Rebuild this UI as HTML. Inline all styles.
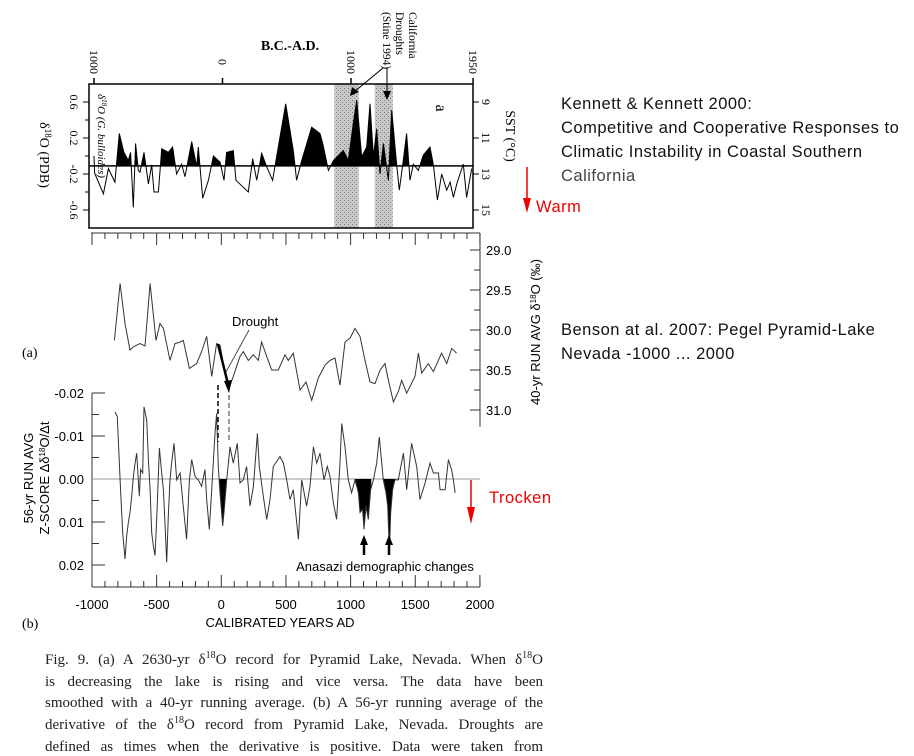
<!DOCTYPE html>
<html><head><meta charset="utf-8"><style>
html,body{margin:0;padding:0;background:#fff;}
svg{display:block;}
.cap{position:absolute;left:45px;width:498px;font-family:"Liberation Serif",serif;font-size:15px;line-height:21.7px;color:#222;}
.cap div{text-align:justify;text-align-last:justify;white-space:nowrap;overflow:visible;}
.note{position:absolute;left:561px;font-family:"Liberation Sans",sans-serif;font-size:16.5px;letter-spacing:0.5px;line-height:24px;color:#111;white-space:nowrap;}
</style></head><body>
<div style="position:relative;width:914px;height:756px;overflow:hidden;">
<svg id="chart" width="914" height="756" viewBox="0 0 914 756" xmlns="http://www.w3.org/2000/svg"></svg>
<div class="note" style="top:92px;">Kennett &amp; Kennett 2000:<br>Competitive and Cooperative Responses to<br>Climatic Instability in Coastal Southern<br><span style="color:#444">California</span></div>
<div class="note" style="top:318px;">Benson at al. 2007: Pegel Pyramid-Lake<br>Nevada -1000 ... 2000</div>
<div class="note" style="top:195px;left:536px;color:#e00;">Warm</div>
<div class="note" style="top:486px;left:489px;color:#e00;">Trocken</div>
<div class="cap" style="top:650px;">
<div>Fig. 9. (a) A 2630-yr δ<sup style="font-size:10px;line-height:0">18</sup>O record for Pyramid Lake, Nevada. When δ<sup style="font-size:10px;line-height:0">18</sup>O</div>
<div>is decreasing the lake is rising and vice versa. The data have been</div>
<div>smoothed with a 40-yr running average. (b) A 56-yr running average of the</div>
<div>derivative of the δ<sup style="font-size:10px;line-height:0">18</sup>O record from Pyramid Lake, Nevada. Droughts are</div>
<div>defined as times when the derivative is positive. Data were taken from</div>
</div>
</div>
<script>
// ---- Top panel (Kennett) data ----
const topYears = [-1000,-995,-927,-888,-837,-803,-767,-733,-715,-694,-676,-655,-642,-611,-577,-551,-533,-499,-473,-447,-421,-388,-357,-318,-292,-240,-201,-188,-154,-110,-71,-19,12,32,84,105,201,235,266,305,344,390,434,492,551,577,616,694,759,780,824,863,940,979,1018,1044,1083,1122,1148,1174,1200,1226,1252,1291,1317,1355,1376,1407,1433,1459,1485,1524,1563,1615,1641,1672,1706,1745,1771,1797,1823,1848,1874,1900,1939];
const topValues = [0.0,-0.19,-0.42,-0.14,-0.29,0.25,0.04,-0.05,0.04,-0.57,0.14,-0.16,-0.18,0.04,-0.31,-0.1,-0.4,-0.4,0.08,0.06,0.04,0.1,-0.2,-0.09,-0.23,0.16,-0.12,0.1,-0.47,-0.27,0.0,-0.07,-0.27,0.04,0.06,-0.27,-0.4,-0.03,-0.27,0.03,-0.12,-0.27,0.1,0.58,0.06,-0.27,-0.05,0.32,0.25,0.14,-0.16,-0.05,0.06,-0.05,0.36,0.62,-0.01,0.1,0.58,-0.01,0.3,-0.2,0.14,-0.27,0.51,-0.09,-0.38,-0.05,0.25,-0.27,-0.09,-0.16,0.01,0.1,-0.1,-0.49,-0.2,-0.38,-0.29,-0.46,-0.31,-0.2,-0.09,-0.46,-0.14];
const topYTicks = [0.6,0.2,-0.2,-0.6];
const sstTicks = ["9","11","13","15"];
const topXTicks = [-1000,0,1000,1950];
const topXLabels = ["1000","0","1000","1950"];
const droughtBands = [[870,1060],[1185,1325]];
// ---- Middle panel (Benson 40-yr avg) ----
const midYears = [-827,-783,-745,-706,-680,-654,-629,-590,-551,-505,-474,-448,-397,-358,-319,-294,-247,-191,-152,-113,-74,-36,-10,54,93,145,170,209,248,286,312,351,390,441,493,518,557,609,655,699,750,802,841,879,918,957,996,1034,1073,1111,1150,1189,1228,1266,1292,1331,1369,1395,1434,1498,1524,1550,1601,1640,1704,1743,1782,1820];
const midValues = [30.13,29.42,29.92,30.25,30.21,30.19,30.17,30.2,29.42,30.13,29.92,29.98,30.38,30.17,30.15,30.13,30.48,30.42,30.27,30.08,30.58,30.17,30.19,30.75,30.58,30.33,30.27,30.38,30.31,30.38,30.15,30.33,30.5,30.5,30.31,30.38,30.29,30.75,30.65,30.88,30.6,30.44,30.38,30.35,30.69,30.15,30.1,29.98,30.08,30.38,30.65,30.67,30.5,30.42,30.63,30.9,30.77,30.63,30.79,30.58,30.29,30.54,30.42,30.52,30.29,30.42,30.23,30.29];
const midTicks = ["29.0","29.5","30.0","30.5","31.0"];
// ---- Bottom panel (Benson derivative, thousandths) ----
const botYears = [-822,-804,-783,-763,-752,-745,-732,-719,-706,-693,-680,-667,-654,-634,-624,-608,-598,-577,-564,-551,-538,-526,-513,-500,-479,-461,-448,-435,-422,-410,-397,-384,-366,-345,-319,-299,-268,-247,-229,-203,-178,-152,-126,-113,-93,-74,-49,-36,-23,-10,11,21,42,67,93,124,145,170,196,222,248,279,294,325,351,377,402,454,480,506,531,557,596,622,660,686,712,738,763,794,820,841,866,892,918,931,957,982,1008,1034,1060,1073,1093,1104,1119,1137,1155,1176,1202,1222,1253,1274,1287,1300,1310,1325,1343,1369,1408,1434,1472,1511,1537,1576,1614,1640,1679,1692,1731,1756,1782,1795,1808];
const botValues = [-15.6,-14.5,0.2,12.3,16.2,18.6,13.2,10.2,7.8,4.0,-0.6,-3.7,-6.0,4.0,-2.2,-1.4,-16.8,-13.7,-4.5,2.5,12.5,15.5,17.8,9.4,-7.2,-1.4,2.5,10.9,19.4,8.6,0.2,-3.7,-8.3,0.2,-1.4,4.8,14.0,0.2,-4.5,-0.6,0.2,1.7,-2.2,4.8,11.7,2.5,-10.6,-15.2,-2.9,3.2,10.9,7.8,0.2,-7.5,-3.7,-8.3,0.9,0.2,-2.9,6.3,1.7,-10.6,-2.9,4.0,9.4,4.8,-2.9,-5.2,-3.7,0.2,4.8,2.5,14.0,0.2,6.3,1.7,-7.5,-3.7,-6.0,0.2,-2.9,-0.6,5.5,9.4,-3.7,-12.9,-7.5,0.2,3.2,0.2,3.2,7.8,7.1,11.7,6.3,9.4,2.5,0.2,-3.7,-9.8,0.2,3.2,6.3,17.1,7.8,2.5,0.2,0.2,-6.0,2.5,-8.3,-2.9,4.8,0.9,-3.7,-1.4,-1.4,2.5,2.5,-4.5,-2.1,0.2,3.2];
const botTicks = ["-0.02","-0.01","0.00","0.01","0.02"];
const botTickVals = [-20,-10,0,10,20];
const xTickVals = [-1000,-500,0,500,1000,1500,2000];
const fillRanges = [[-25,70],[1030,1160],[1250,1345]];

const NS="http://www.w3.org/2000/svg";
const svg=document.getElementById('chart');
function mk(tag,attrs,parent,text){const e=document.createElementNS(NS,tag);for(const k in attrs)e.setAttribute(k,attrs[k]);if(text!==undefined)e.textContent=text;(parent||svg).appendChild(e);return e;}
const tx=y=>222.5+y*0.1285;
const ty=v=>102+(0.6-v)*90;
const bx=y=>92+(y+1000)*0.1293;
const my=v=>250+(v-29)*80;
const by=v=>479+v*4.3;

const defs=mk('defs',{});
const pat=mk('pattern',{id:'stip',width:4,height:4,patternUnits:'userSpaceOnUse'},defs);
mk('rect',{width:4,height:4,fill:'#c8c8c8'},pat);
mk('rect',{x:0,y:0,width:1,height:1,fill:'#777'},pat);
mk('rect',{x:2,y:2,width:1,height:1,fill:'#888'},pat);
const cp=mk('clipPath',{id:'topAbove'},defs);
mk('rect',{x:89,y:84,width:384,height:ty(-0.11)-84},cp);
const cp2=mk('clipPath',{id:'botFill'},defs);
fillRanges.forEach(r=>mk('rect',{x:bx(r[0]),y:479,width:bx(r[1])-bx(r[0]),height:120},cp2));

// ===== top panel =====
let t=mk('text',{x:290,y:50,'font-family':'Liberation Serif, serif','font-size':14,'font-weight':'bold','text-anchor':'middle'},svg,'B.C.-A.D.');


droughtBands.forEach((b,i)=>{
  const r=mk('rect',{x:tx(b[0]),y:84,width:tx(b[1])-tx(b[0]),height:144,fill:'url(#stip)'});
  
  
});
const topPts=topYears.map((y,i)=>tx(y).toFixed(1)+','+ty(topValues[i]).toFixed(1));
const base=ty(-0.11);
let f=mk('path',{d:'M'+tx(topYears[0])+','+base+' L'+topPts.join(' L')+' L'+tx(topYears[topYears.length-1])+','+base+'Z',fill:'#000','clip-path':'url(#topAbove)'});


let l=mk('polyline',{points:topPts.join(' '),fill:'none',stroke:'#000','stroke-width':1});


mk('line',{x1:89,y1:base,x2:473,y2:base,stroke:'#000','stroke-width':1.5});
let bx1=mk('rect',{x:89,y:84,width:384,height:144,fill:'none',stroke:'#000','stroke-width':1.5});


topYTicks.forEach((v,i)=>{
  const y=ty(v);
  mk('line',{x1:83,y1:y,x2:89,y2:y,stroke:'#000'});
  mk('line',{x1:473,y1:y,x2:479,y2:y,stroke:'#000'});
  const a=mk('text',{transform:`translate(70,${y}) rotate(90)`,'font-family':'Liberation Serif, serif','font-size':12,'text-anchor':'middle'},svg,v.toFixed(1));
  
  
  const b=mk('text',{transform:`translate(482,${y}) rotate(90)`,'font-family':'Liberation Serif, serif','font-size':12,'text-anchor':'middle'},svg,sstTicks[i]);
  
  
});
[0.4,0,-0.4].forEach(v=>{mk('line',{x1:85,y1:ty(v),x2:89,y2:ty(v),stroke:'#000'});});
topXTicks.forEach((yr,i)=>{
  const x=tx(yr);
  mk('line',{x1:x,y1:78,x2:x,y2:84,stroke:'#000','stroke-width':1.5});
  const a=mk('text',{transform:`translate(${x-4},62) rotate(90)`,'font-family':'Liberation Serif, serif','font-size':12,'text-anchor':'middle'},svg,topXLabels[i]);
  
  
});
t=mk('text',{transform:'translate(40,155) rotate(90)','font-family':'Liberation Serif, serif','font-size':14,'text-anchor':'middle'},svg);
t.innerHTML='δ<tspan dy="-5" font-size="9">18</tspan><tspan dy="5">O (PDB)</tspan>';


t=mk('text',{transform:'translate(98,94) rotate(90)','font-family':'Liberation Serif, serif','font-size':11,'font-style':'italic'},svg);
t.innerHTML='δ<tspan dy="-4" font-size="7">18</tspan><tspan dy="4">O (G. bulloides)</tspan>';


t=mk('text',{transform:'translate(506,136) rotate(90)','font-family':'Liberation Serif, serif','font-size':14,'text-anchor':'middle'},svg,'SST (°C)');


t=mk('text',{transform:'translate(436,108) rotate(90)','font-family':'Liberation Serif, serif','font-size':16,'text-anchor':'middle'},svg,'a');


['California','Droughts','(Stine 1994)'].forEach((s,i)=>{
  const a=mk('text',{transform:`translate(${409-i*13},12) rotate(90)`,'font-family':'Liberation Serif, serif','font-size':11.5},svg,s);
  
  
});
mk('line',{x1:383,y1:68,x2:354,y2:92,stroke:'#000','stroke-width':1});
mk('polygon',{points:'350,96 352,87 359,92',fill:'#000'});
mk('line',{x1:387,y1:68,x2:387,y2:94,stroke:'#000','stroke-width':1});
mk('polygon',{points:'387,100 383,91 391,91',fill:'#000'});

mk('line',{x1:527,y1:167,x2:527,y2:200,stroke:'#e00','stroke-width':1.5});
mk('polygon',{points:'527,213 523,198 531,198',fill:'#e00'});
mk('line',{x1:471,y1:480,x2:471,y2:510,stroke:'#e00','stroke-width':1.5});
mk('polygon',{points:'471,524 467,507 475,507',fill:'#e00'});

// ===== middle panel =====
mk('line',{x1:91,y1:233,x2:480,y2:233,stroke:'#333','stroke-width':1});
for(let yr=-1000;yr<=2000;yr+=100){const x=bx(yr);mk('line',{x1:x,y1:233,x2:x,y2:yr%500===0?245:239,stroke:'#333'});}
mk('line',{x1:480,y1:233,x2:480,y2:427,stroke:'#333'});
midTicks.forEach((s,i)=>{
  const v=parseFloat(s), y=my(v);
  mk('line',{x1:470,y1:y,x2:480,y2:y,stroke:'#333'});
  if(i<4)mk('line',{x1:474,y1:my(v+0.25),x2:480,y2:my(v+0.25),stroke:'#333'});
  const a=mk('text',{x:486,y:y+5,'font-family':'Liberation Sans, sans-serif','font-size':13},svg,s);
  
  
});
t=mk('text',{transform:'translate(540,332) rotate(-90)','font-family':'Liberation Sans, sans-serif','font-size':13,'text-anchor':'middle'},svg);
t.innerHTML='40-yr RUN AVG δ<tspan dy="-4" font-size="8">18</tspan><tspan dy="4">O (‰)</tspan>';


l=mk('polyline',{points:midYears.map((y,i)=>bx(y).toFixed(1)+','+my(midValues[i]).toFixed(1)).join(' '),fill:'none',stroke:'#333','stroke-width':1});


t=mk('text',{x:22,y:357,'font-family':'Liberation Serif, serif','font-size':14},svg,'(a)');


t=mk('text',{x:232,y:326,'font-family':'Liberation Sans, sans-serif','font-size':13},svg,'Drought');


mk('line',{x1:249,y1:330,x2:226,y2:372,stroke:'#333','stroke-width':0.8});
mk('line',{x1:218,y1:344,x2:228,y2:384,stroke:'#000','stroke-width':2.5});
mk('polygon',{points:'229,393 224,381 232,380',fill:'#000'});
mk('line',{x1:218,y1:385,x2:218,y2:442,stroke:'#000','stroke-width':1.5,'stroke-dasharray':'5,3'});
mk('line',{x1:229,y1:395,x2:229,y2:442,stroke:'#333','stroke-width':1,'stroke-dasharray':'5,3'});

// ===== bottom panel =====
mk('line',{x1:92,y1:393,x2:92,y2:587,stroke:'#333'});
mk('line',{x1:92,y1:587,x2:480,y2:587,stroke:'#333'});
mk('line',{x1:480,y1:587,x2:480,y2:579,stroke:'#333'});
botTicks.forEach((s,i)=>{
  const y=by(botTickVals[i]);
  mk('line',{x1:92,y1:y,x2:105,y2:y,stroke:'#333'});
  if(i<4)mk('line',{x1:92,y1:by(botTickVals[i]+5),x2:99,y2:by(botTickVals[i]+5),stroke:'#333'});
  const a=mk('text',{x:84,y:y+5,'font-family':'Liberation Sans, sans-serif','font-size':13,'text-anchor':'end'},svg,s);
  
  
});
for(let yr=-1000;yr<=2000;yr+=100){const x=bx(yr);mk('line',{x1:x,y1:587,x2:x,y2:yr%500===0?575:581,stroke:'#333'});}
xTickVals.forEach(yr=>{
  const a=mk('text',{x:bx(yr),y:609,'font-family':'Liberation Sans, sans-serif','font-size':13,'text-anchor':'middle'},svg,String(yr));
  
  
});
t=mk('text',{x:280,y:627,'font-family':'Liberation Sans, sans-serif','font-size':13,'text-anchor':'middle'},svg,'CALIBRATED YEARS AD');


t=mk('text',{x:22,y:628,'font-family':'Liberation Serif, serif','font-size':14},svg,'(b)');


t=mk('text',{transform:'translate(33,478) rotate(-90)','font-family':'Liberation Sans, sans-serif','font-size':13,'text-anchor':'middle'},svg,'56-yr RUN AVG');


t=mk('text',{transform:'translate(49,478) rotate(-90)','font-family':'Liberation Sans, sans-serif','font-size':13,'text-anchor':'middle'},svg);
t.innerHTML='Z-SCORE Δδ<tspan dy="-4" font-size="8">18</tspan><tspan dy="4">O/Δt</tspan>';


mk('line',{x1:92,y1:by(0),x2:480,y2:by(0),stroke:'#999','stroke-width':1});
const botPts=botYears.map((y,i)=>bx(y).toFixed(1)+','+by(botValues[i]).toFixed(1));
f=mk('path',{d:'M'+bx(botYears[0])+','+by(0)+' L'+botPts.join(' L')+' L'+bx(botYears[botYears.length-1])+','+by(0)+'Z',fill:'#000','clip-path':'url(#botFill)'});


l=mk('polyline',{points:botPts.join(' '),fill:'none',stroke:'#333','stroke-width':1});


[364,389].forEach(x=>{
  mk('line',{x1:x,y1:555,x2:x,y2:543,stroke:'#000','stroke-width':2.5});
  mk('polygon',{points:`${x},535 ${x-4},545 ${x+4},545`,fill:'#000'});
});
t=mk('text',{x:385,y:571,'font-family':'Liberation Sans, sans-serif','font-size':13,'text-anchor':'middle'},svg,'Anasazi demographic changes');


</script>
</body></html>
